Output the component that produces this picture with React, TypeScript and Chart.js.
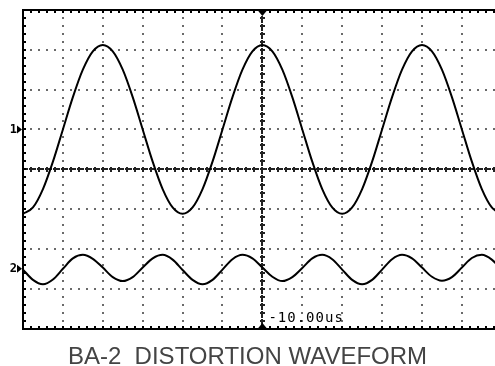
import React, { useEffect, useRef } from "react";
import { Chart, registerables } from "chart.js";

Chart.register(...registerables);

// time axis in screen divisions (0 = left edge of graticule)
const TIME_DIV = [
  0, 0.25, 0.5, 0.75, 1, 1.25, 1.5, 1.75, 2, 2.25, 2.5, 2.75,
  3, 3.25, 3.5, 3.75, 4, 4.25, 4.5, 4.75, 5, 5.25, 5.5, 5.75,
  6, 6.25, 6.5, 6.75, 7, 7.25, 7.5, 7.75, 8, 8.25, 8.5, 8.75,
  9, 9.25, 9.5, 9.75, 10, 10.25, 10.5, 10.75, 11, 11.25, 11.5, 11.75, 12,
];

// channel 1 trace (divisions, vertical)
const CH1 = [
  -1.12, -0.96, -0.5, 0.19, 1.0, 1.81, 2.5, 2.96, 3.12, 2.96, 2.5, 1.81, 1.0, 0.19, -0.5, -0.96,
  -1.12, -0.96, -0.5, 0.19, 1.0, 1.81, 2.5, 2.96, 3.12, 2.96, 2.5, 1.81, 1.0, 0.19, -0.5, -0.96,
  -1.12, -0.96, -0.5, 0.19, 1.0, 1.81, 2.5, 2.96, 3.12, 2.96, 2.5, 1.81, 1.0, 0.19, -0.5, -0.96,
  -1.12,
];

// channel 2 trace (divisions, vertical)
const CH2 = [
  -2.52, -2.78, -2.89, -2.77, -2.5, -2.24, -2.15, -2.25, -2.47, -2.71, -2.81, -2.71, -2.47, -2.24, -2.15, -2.27,
  -2.53, -2.78, -2.89, -2.78, -2.52, -2.26, -2.15, -2.24, -2.47, -2.7, -2.81, -2.71, -2.48, -2.24, -2.15, -2.26,
  -2.52, -2.78, -2.89, -2.78, -2.52, -2.26, -2.15, -2.24, -2.47, -2.7, -2.8, -2.71, -2.47, -2.23, -2.15, -2.27,
  -2.52,
];

const CH_MARKERS = [
  { label: "1", level: 1.0 },
  { label: "2", level: -2.5 },
];
const DELAY_LABEL = "-10.00us";
const TITLE = "BA-2  DISTORTION WAVEFORM";

const X_MIN = 0;
const X_MAX = 11.83;
const Y_MIN = -4;
const Y_MAX = 4;
const DIV_X = 12;
const DIV_Y = 8;
const MINOR = 0.2;

const scopePlugin = {
  id: "scope",
  beforeDraw(chart: any) {
    const { ctx, width, height } = chart;
    ctx.save();
    ctx.fillStyle = "#fff";
    ctx.fillRect(0, 0, width, height);
    ctx.restore();
  },
  beforeDatasetsDraw(chart: any) {
    const ctx = chart.ctx;
    const xs = chart.scales.x;
    const ys = chart.scales.y;
    const area = chart.chartArea;
    const px = (v: number) => xs.getPixelForValue(v);
    const py = (v: number) => ys.getPixelForValue(v);
    ctx.save();
    // dotted grid
    ctx.fillStyle = "#6a6a6a";
    const dot = (x: number, y: number) => ctx.fillRect(Math.round(x) - 1, Math.round(y) - 1, 2, 2);
    for (let i = 1; i < DIV_X; i++) {
      if (i === DIV_X / 2) continue;
      const x = px(i);
      if (x > area.right) continue;
      for (let v = Y_MIN + MINOR; v < Y_MAX - 0.01; v += MINOR) dot(x, py(v));
    }
    for (let j = Y_MIN + 1; j < Y_MAX; j++) {
      if (j === 0) continue;
      const y = py(j);
      for (let v = X_MIN + MINOR; v <= X_MAX; v += MINOR) dot(px(v), y);
    }
    // centre lines with crosses
    ctx.fillStyle = "#222";
    const cx = px(DIV_X / 2);
    const cy = py(0);
    for (let v = Y_MIN + MINOR; v < Y_MAX - 0.01; v += MINOR) {
      const y = Math.round(py(v));
      ctx.fillRect(Math.round(cx) - 2, y - 1, 5, 2);
      ctx.fillRect(Math.round(cx) - 1, y - 2, 2, 5);
      ctx.fillRect(Math.round(cx) - 1, Math.round(py(v - MINOR / 2)) - 1, 2, 2);
    }
    for (let v = X_MIN + MINOR; v <= X_MAX; v += MINOR) {
      const x = Math.round(px(v));
      ctx.fillRect(x - 2, Math.round(cy) - 1, 5, 2);
      ctx.fillRect(x - 1, Math.round(cy) - 2, 2, 5);
      ctx.fillRect(Math.round(px(v - MINOR / 2)) - 1, Math.round(cy) - 1, 2, 2);
    }
    // border
    ctx.fillStyle = "#000";
    const left = Math.round(px(X_MIN));
    const top = Math.round(py(Y_MAX));
    const bottom = Math.round(py(Y_MIN));
    ctx.fillRect(left - 1, top - 1, 2, bottom - top + 2);
    ctx.fillRect(left - 1, top - 1, area.right - left + 2, 2);
    ctx.fillRect(left - 1, bottom - 1, area.right - left + 2, 2);
    // border ticks
    for (let v = Y_MIN + MINOR; v < Y_MAX - 0.01; v += MINOR) {
      ctx.fillRect(left + 1, Math.round(py(v)) - 1, 2, 2);
    }
    for (let v = X_MIN + MINOR; v <= X_MAX; v += MINOR) {
      const x = Math.round(px(v));
      ctx.fillRect(x - 1, top + 1, 2, 2);
      ctx.fillRect(x - 1, bottom - 3, 2, 2);
    }
    // trigger markers
    ctx.beginPath();
    ctx.moveTo(cx - 5, top);
    ctx.lineTo(cx + 5, top);
    ctx.lineTo(cx, top + 6);
    ctx.closePath();
    ctx.fill();
    ctx.beginPath();
    ctx.moveTo(cx - 5, bottom);
    ctx.lineTo(cx + 5, bottom);
    ctx.lineTo(cx, bottom - 6);
    ctx.closePath();
    ctx.fill();
    // channel markers
    ctx.font = "bold 12px 'DejaVu Sans Mono'";
    ctx.textAlign = "right";
    ctx.textBaseline = "middle";
    for (const m of CH_MARKERS) {
      const y = py(m.level);
      ctx.fillText(m.label, left - 6, y + 0.5);
      ctx.beginPath();
      ctx.moveTo(left - 6, y - 4);
      ctx.lineTo(left - 1, y);
      ctx.lineTo(left - 6, y + 4);
      ctx.closePath();
      ctx.fill();
    }
    // delay label
    ctx.font = "14px 'DejaVu Sans Mono'";
    (ctx as any).letterSpacing = "1px";
    ctx.textAlign = "left";
    ctx.textBaseline = "alphabetic";
    ctx.fillText(DELAY_LABEL, cx + 6, bottom - 7);
    (ctx as any).letterSpacing = "0px";
    ctx.restore();
  },
  afterDraw(chart: any) {
    const ctx = chart.ctx;
    ctx.save();
    ctx.font = "24px 'Liberation Sans'";
    ctx.fillStyle = "#444";
    ctx.textAlign = "center";
    ctx.textBaseline = "alphabetic";
    ctx.fillText(TITLE, chart.width / 2, 363.5);
    ctx.restore();
  },
};

export default function App() {
  const ref = useRef<HTMLCanvasElement | null>(null);
  useEffect(() => {
    if (!ref.current) return;
    const chart = new Chart(ref.current, {
      type: "line",
      data: {
        datasets: [
          {
            label: "CH1",
            data: TIME_DIV.map((t, i) => ({ x: t, y: CH1[i] })),
            borderColor: "#000",
            borderWidth: 2,
            pointRadius: 0,
            cubicInterpolationMode: "monotone",
            fill: false,
          },
          {
            label: "CH2",
            data: TIME_DIV.map((t, i) => ({ x: t, y: CH2[i] })),
            borderColor: "#000",
            borderWidth: 2,
            pointRadius: 0,
            cubicInterpolationMode: "monotone",
            fill: false,
          },
        ],
      },
      options: {
        animation: false,
        responsive: false,
        devicePixelRatio: 1,
        events: [],
        layout: { padding: { left: 23, top: 10, right: 0, bottom: 37.5 } },
        scales: {
          x: { type: "linear", min: X_MIN, max: X_MAX, display: false },
          y: { type: "linear", min: Y_MIN, max: Y_MAX, display: false },
        },
        plugins: {
          legend: { display: false },
          tooltip: { enabled: false },
          title: { display: false },
        },
      },
      plugins: [scopePlugin],
    });
    return () => chart.destroy();
  }, []);
  return (
    <div style={{ position: "fixed", left: 0, top: 0, width: 495, height: 366, background: "#fff" }}>
      <canvas ref={ref} width={495} height={366} style={{ display: "block", width: 495, height: 366 }} />
    </div>
  );
}
